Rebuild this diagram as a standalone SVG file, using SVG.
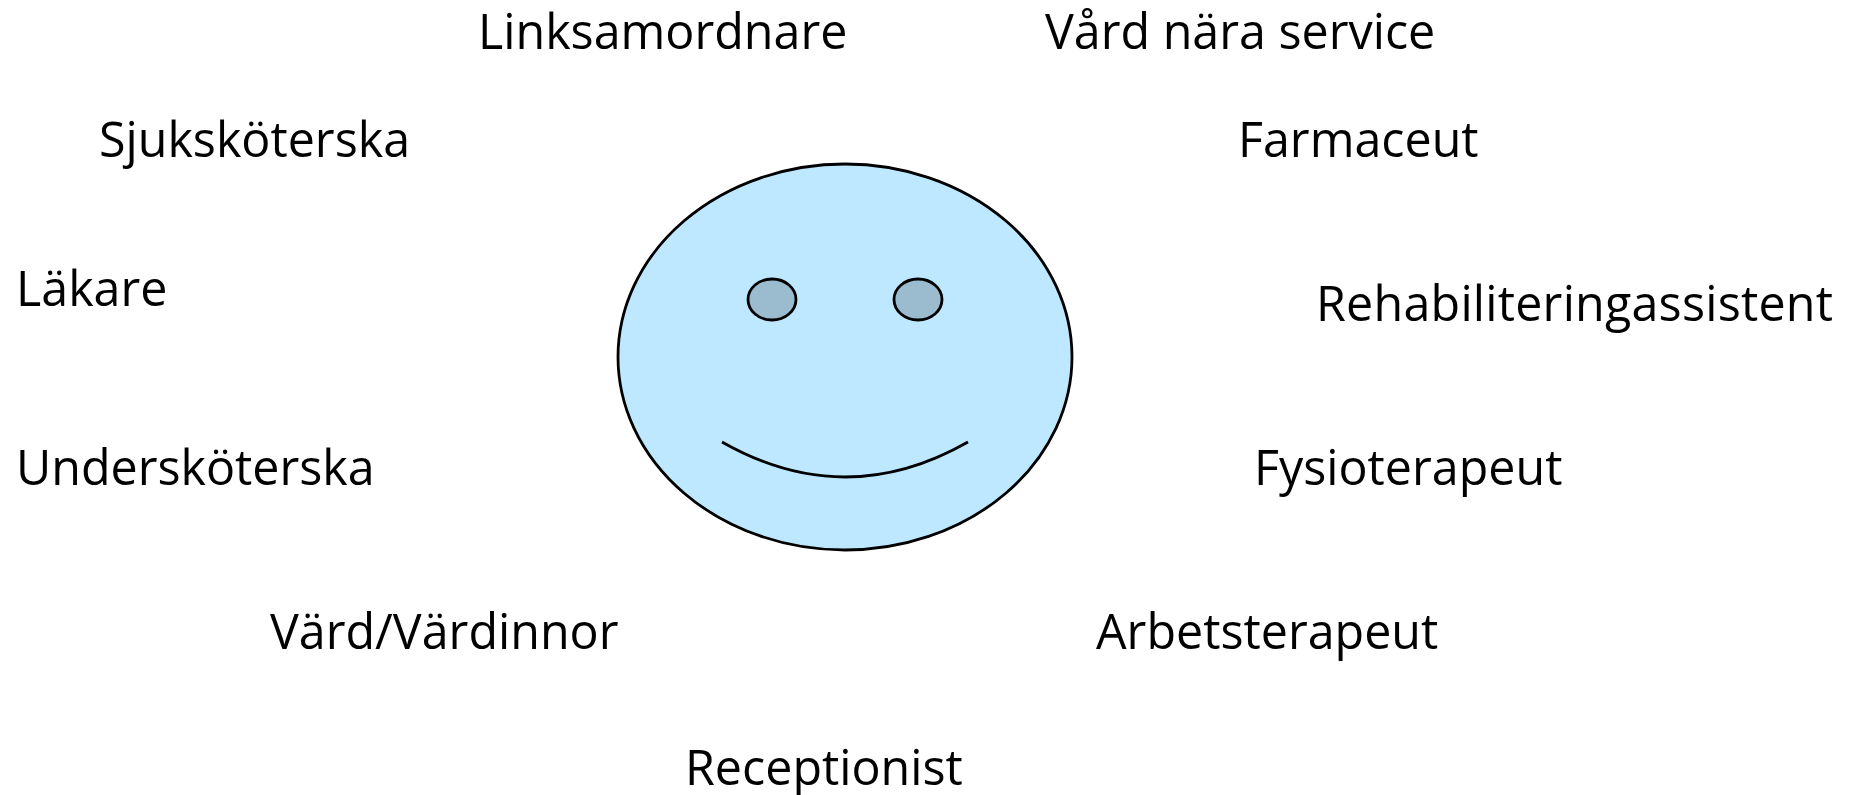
<svg xmlns="http://www.w3.org/2000/svg" width="1853" height="795" viewBox="0 0 1853 795">
<style>
text{font-family:"Open Sans","Noto Sans",sans-serif;font-size:48.400px;fill:#000}
.l{stroke:#000;stroke-width:2.8}
</style>
<rect width="1853" height="795" fill="#fff"/>
<g id="face">
<ellipse class="l" cx="845" cy="357" rx="227" ry="193" fill="#bee8ff"/>
<ellipse class="l" cx="772" cy="299.500" rx="24" ry="20.500" fill="#9bbbce"/>
<ellipse class="l" cx="918" cy="299.500" rx="24" ry="20.500" fill="#9bbbce"/>
<path class="l" d="M722 442Q845 512 968 442" fill="none"/>
</g>
<g id="labels">
<text id="n1" x="478" y="49">Linksamordnare</text>
<text id="n2" x="1045" y="49">Vård nära service</text>
<text id="n3" x="99" y="157">Sjuksköterska</text>
<text id="n4" x="1238" y="157">Farmaceut</text>
<text id="n5" x="16" y="306">Läkare</text>
<text id="n6" x="1316" y="321" textLength="517">Rehabiliteringassistent</text>
<text id="n7" x="16" y="485">Undersköterska</text>
<text id="n8" x="1254" y="485">Fysioterapeut</text>
<text id="n9" x="270" y="649">Värd/Värdinnor</text>
<text id="n10" x="1096" y="649">Arbetsterapeut</text>
<text id="n11" x="685" y="785">Receptionist</text>
</g>
</svg>
